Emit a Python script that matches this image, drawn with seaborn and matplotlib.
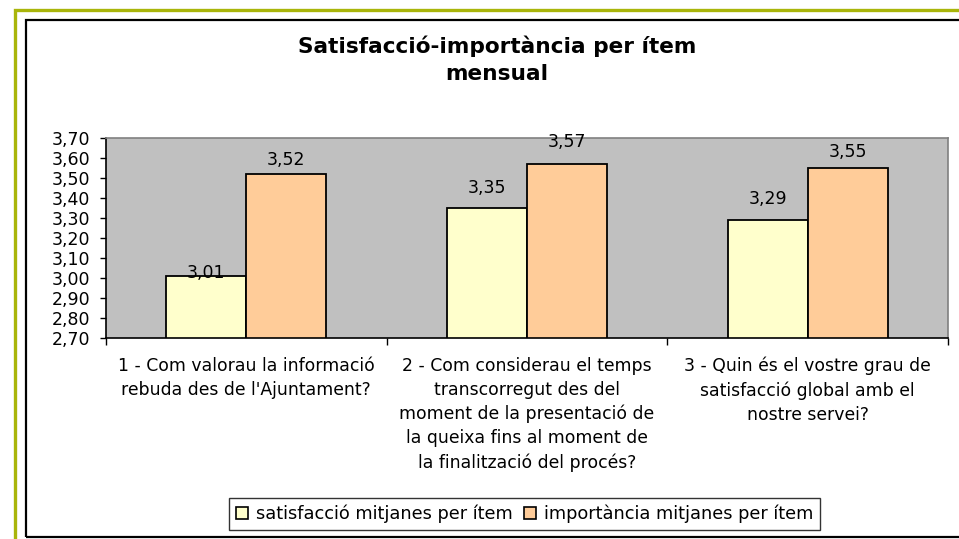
import matplotlib
matplotlib.use("Agg")
import matplotlib.pyplot as plt
from matplotlib.patches import Rectangle
from matplotlib.ticker import FixedLocator
import seaborn as sns
import pandas as pd

# Survey items (category labels, wrapped as displayed under the axis)
items = [
    "1 - Com valorau la informació\nrebuda des de l'Ajuntament?",
    "2 - Com considerau el temps\ntranscorregut des del\nmoment de la presentació de\nla queixa fins al moment de\nla finalització del procés?",
    "3 - Quin és el vostre grau de\nsatisfacció global amb el\nnostre servei?",
]
series_names = ["satisfacció mitjanes per ítem", "importància mitjanes per ítem"]
satisfaccio = [3.01, 3.35, 3.29]
importancia = [3.52, 3.57, 3.55]
y_ticks = [2.70, 2.80, 2.90, 3.00, 3.10, 3.20, 3.30, 3.40, 3.50, 3.60, 3.70]

df = pd.DataFrame({
    "item": items * 2,
    "serie": [series_names[0]] * 3 + [series_names[1]] * 3,
    "valor": satisfaccio + importancia,
})

sns.set_theme(style="white")
plt.rcParams["font.family"] = ["DejaVu Sans"]
plt.rcParams["text.color"] = "black"
plt.rcParams["xtick.color"] = "black"
plt.rcParams["ytick.color"] = "black"
plt.rcParams["axes.labelcolor"] = "black"

W, H = 959, 539
fig = plt.figure(figsize=(W / 100, H / 100), dpi=100)
fig.patch.set_facecolor("white")

# Outer olive frame and inner black chart frame
fig.add_artist(Rectangle((15 / W, -0.1), 1.2, 1.1 - 10.5 / H, transform=fig.transFigure,
                         fill=False, edgecolor="#a9b50a", linewidth=2.4))
fig.add_artist(Rectangle((26 / W, 2.5 / H), 1.2, 1 - 22.5 / H, transform=fig.transFigure,
                         fill=False, edgecolor="black", linewidth=1.6))

ax = fig.add_axes([106 / W, 1 - 338 / H, (948 - 106) / W, (338 - 138) / H])
ax.set_facecolor("#c0c0c0")

palette = {series_names[0]: "#ffffcc", series_names[1]: "#ffcc99"}
sns.barplot(data=df, x="item", y="valor", hue="serie", palette=palette,
            width=0.57, gap=0, edgecolor="black", linewidth=1.3,
            saturation=1, ax=ax, legend=True)

ax.set_ylim(2.70, 3.70)
ax.set_xlim(-0.5, 2.5)
ax.yaxis.set_major_locator(FixedLocator(y_ticks))
ax.set_yticklabels([f"{v:.2f}".replace(".", ",") for v in y_ticks], fontsize=12.5)
ax.tick_params(axis="y", direction="out", length=4.3, width=1, color="black", pad=7, left=True)

# Category labels centred under each group, ticks at the group boundaries
ax.xaxis.set_major_locator(FixedLocator([0, 1, 2]))
ax.set_xticklabels(items, fontsize=12.4, linespacing=1.42, ha="center", va="top")
ax.tick_params(axis="x", which="major", length=0, pad=13.5)
ax.xaxis.set_minor_locator(FixedLocator([-0.5, 0.5, 1.5, 2.5]))
ax.tick_params(axis="x", which="minor", direction="out", length=5, width=1,
               color="black", bottom=True)
ax.set_xlabel("")
ax.set_ylabel("")

for side in ["top", "right"]:
    ax.spines[side].set_color("#808080")
    ax.spines[side].set_linewidth(1.2)
for side in ["left", "bottom"]:
    ax.spines[side].set_color("black")
    ax.spines[side].set_linewidth(1.2)

# Value labels above the bars (vertical offsets in pixels)
label_offsets = [[3, 14], [20, 22], [21, 16]]
for s, cont in enumerate(ax.containers):
    for i, bar in enumerate(cont):
        val = bar.get_height()
        ax.annotate(f"{val:.2f}".replace(".", ","),
                    (bar.get_x() + bar.get_width() / 2, val),
                    xytext=(0, label_offsets[i][s] * 0.72), textcoords="offset points",
                    ha="center", va="center", fontsize=12.5, color="black",
                    annotation_clip=False)

# Title
fig.text(497 / W, 1 - 46 / H, "Satisfacció-importància per ítem", ha="center", va="center",
         fontsize=15.6, fontweight="bold")
fig.text(497 / W, 1 - 74 / H, "mensual", ha="center", va="center",
         fontsize=15.6, fontweight="bold")

# Legend in a box below the chart
handles, labels = ax.get_legend_handles_labels()
ax.get_legend().remove()
leg = fig.legend(handles, labels, loc="center", bbox_to_anchor=(524.5 / W, 1 - 514 / H),
                 ncol=2, frameon=True, fancybox=False, fontsize=12.8,
                 handlelength=0.7, handleheight=0.7, handletextpad=0.45,
                 columnspacing=0.6, borderpad=0.4, borderaxespad=0)
leg.get_frame().set_edgecolor("black")
leg.get_frame().set_linewidth(1.0)
for h in leg.legend_handles:
    h.set_edgecolor("black")
    h.set_linewidth(1.2)

fig.savefig("out.png", dpi=100)
